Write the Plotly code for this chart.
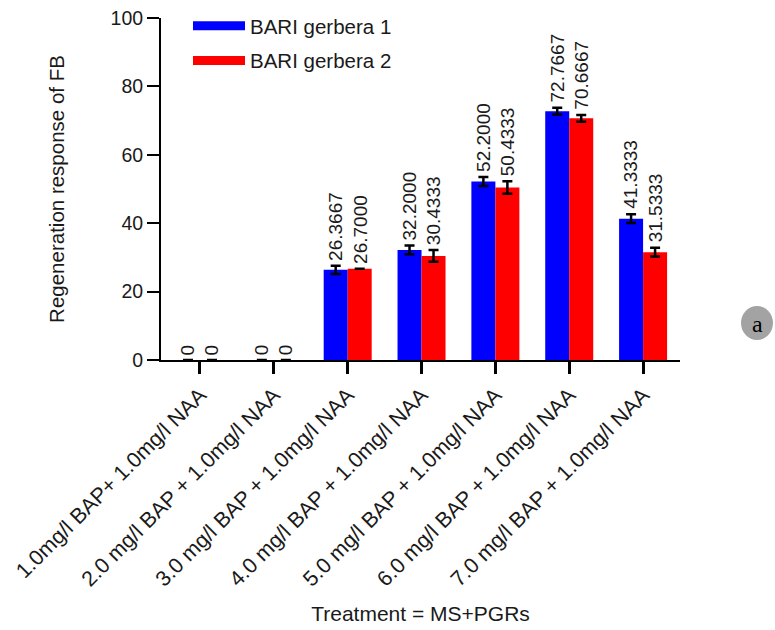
import plotly.graph_objects as go

# Treatments (MS medium + plant growth regulators)
treatments = [
    "1.0mg/l BAP+ 1.0mg/l NAA",
    "2.0 mg/l BAP + 1.0mg/l NAA",
    "3.0 mg/l BAP + 1.0mg/l NAA",
    "4.0 mg/l BAP + 1.0mg/l NAA",
    "5.0 mg/l BAP + 1.0mg/l NAA",
    "6.0 mg/l BAP + 1.0mg/l NAA",
    "7.0 mg/l BAP + 1.0mg/l NAA",
]

# Mean regeneration response of flower buds (FB)
gerbera1 = [0, 0, 26.3667, 32.2000, 52.2000, 72.7667, 41.3333]
gerbera2 = [0, 0, 26.7000, 30.4333, 50.4333, 70.6667, 31.5333]

# Standard errors (None = no error bar drawn)
err1 = [None, None, 1.2, 1.3, 1.3, 1.0, 1.3]
err2 = [None, None, None, 1.7, 1.8, 1.0, 1.3]

y_ticks = [0, 20, 40, 60, 80, 100]

series_names = ["BARI gerbera 1", "BARI gerbera 2"]
series_colors = ["#0000ff", "#ff0000"]

FONT = "Liberation Sans, Arial, sans-serif"
TXT = "#1a1a1a"

# Figure geometry (pixels)
W, H = 775, 630
L, R, T, B = 161, 95, 18, 270
plot_w = W - L - R
plot_h = H - T - B


def xp(px):
    return (px - L) / plot_w


def yp(py):
    return (H - B - py) / plot_h


bargap = 0.35
half = (1 - bargap) / 4  # offset of each bar centre from the category centre
xs = list(range(len(treatments)))

fig = go.Figure()

for name, color, vals, errs in [
    (series_names[0], series_colors[0], gerbera1, err1),
    (series_names[1], series_colors[1], gerbera2, err2),
]:
    fig.add_trace(go.Bar(
        x=xs, y=vals, name=name, showlegend=False,
        marker=dict(color=color, line=dict(width=0)),
        error_y=dict(type="data", array=errs, visible=True,
                     color="black", thickness=2.5, width=5),
    ))
    # legend entries with wide flat swatches
    fig.add_trace(go.Scatter(
        x=[None], y=[None], mode="lines", name=name,
        line=dict(color=color, width=9), legendgroup=name,
    ))

# value labels above each bar
for vals, errs, sign in [(gerbera1, err1, -1), (gerbera2, err2, 1)]:
    for i, (v, e) in enumerate(zip(vals, errs)):
        label = "0" if v == 0 else f"{v:.4f}"
        top = v + (e or 0)
        fig.add_annotation(
            x=i + sign * half, y=top, xref="x", yref="y",
            text=label, textangle=-90, showarrow=False,
            xanchor="center", yanchor="bottom", yshift=3,
            font=dict(family=FONT, size=19, color=TXT),
        )

# x-axis line continues slightly to the left of the y-axis
fig.add_shape(type="line", xref="paper", yref="paper",
              x0=xp(149), x1=0, y0=0, y1=0,
              line=dict(color="black", width=2))

# panel marker "a"
fig.add_shape(type="circle", xref="paper", yref="paper",
              x0=xp(741), x1=xp(773), y0=yp(340), y1=yp(306),
              fillcolor="#a3a3a3", line=dict(width=0))
fig.add_annotation(x=xp(757), y=yp(324), xref="paper", yref="paper",
                   text="a", showarrow=False,
                   xanchor="center", yanchor="middle",
                   font=dict(family="Liberation Serif, serif", size=24, color="black"))

fig.update_layout(
    width=W, height=H,
    margin=dict(l=L, r=R, t=T, b=B, pad=0, autoexpand=False),
    paper_bgcolor="white", plot_bgcolor="white",
    barmode="group", bargap=bargap, bargroupgap=0,
    font=dict(family=FONT, size=20, color=TXT),
    legend=dict(
        x=xp(188), y=yp(6), xanchor="left", yanchor="top",
        bgcolor="rgba(0,0,0,0)", itemwidth=52,
        font=dict(family=FONT, size=20.5, color=TXT),
        tracegroupgap=5,
    ),
    xaxis=dict(
        range=[-0.528, 6.5], automargin=False,
        tickmode="array", tickvals=xs, ticktext=treatments,
        tickangle=-45,
        showline=True, linecolor="black", linewidth=2,
        ticks="outside", ticklen=12, tickwidth=2.5, tickcolor="black",
        showgrid=False, zeroline=False,
        tickfont=dict(family=FONT, size=21.5, color=TXT),
        title=dict(text="Treatment = MS+PGRs", standoff=16,
                   font=dict(family=FONT, size=21, color=TXT)),
    ),
    yaxis=dict(
        range=[0, 100], automargin=False,
        tickmode="array", tickvals=y_ticks,
        showline=True, linecolor="black", linewidth=2,
        ticks="outside", ticklen=12, tickwidth=2, tickcolor="black",
        showgrid=False, zeroline=False,
        tickfont=dict(family=FONT, size=19.5, color=TXT),
        title=dict(text="Regeneration response of FB", standoff=40,
                   font=dict(family=FONT, size=20.5, color=TXT)),
    ),
)

fig.write_html("out.html")
